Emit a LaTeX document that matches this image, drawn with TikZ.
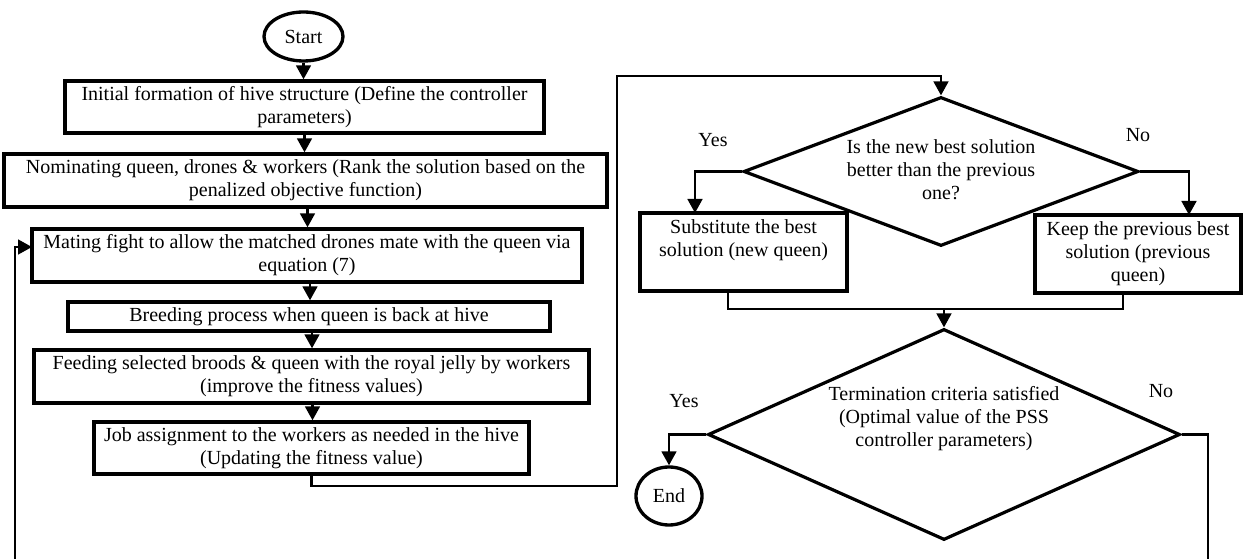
\documentclass[tikz,border=0pt]{standalone}
\usepackage{fontspec}
\setmainfont{Liberation Serif}
\usetikzlibrary{shapes.geometric,arrows.meta}
\newcommand\pxu{0.75pt}
\begin{document}
\begin{tikzpicture}[x=0.75pt,y=-0.75pt,
  font=\fontsize{15pt}{17.3pt}\selectfont,
  box/.style={draw,line width=2.5pt,rectangle,inner sep=0pt,align=center},
  term/.style={draw,line width=2.5pt,ellipse,inner sep=0pt},
  dec/.style={draw,line width=2.4pt,diamond,inner sep=0pt},
  conn/.style={line width=2pt},
  arr/.style={line width=2pt,-{Triangle[width=11pt,length=10.5pt]}},
  lbl/.style={inner sep=0pt}]
\useasboundingbox (0,0) rectangle (1247,559);
% left column
\node[term,minimum width=79*\pxu,minimum height=49*\pxu] (start) at (303.5,36.5) {Start};
\node[box,minimum width=479*\pxu,minimum height=52*\pxu] (b1) at (304.5,107) {Initial formation of hive structure (Define the controller\\parameters)};
\node[box,minimum width=603*\pxu,minimum height=53*\pxu] (b2) at (305.5,180.5) {Nominating queen, drones \& workers (Rank the solution based on the\\penalized objective function)};
\node[box,minimum width=550*\pxu,minimum height=53*\pxu] (b3) at (307,255.5) {Mating fight to allow the matched drones mate with the queen via\\equation (7)};
\node[box,minimum width=482*\pxu,minimum height=29*\pxu] (b4) at (309,316.5) {Breeding process when queen is back at hive};
\node[box,minimum width=555*\pxu,minimum height=53*\pxu] (b5) at (311.5,376.5) {Feeding selected broods \& queen with the royal jelly by workers\\(improve the fitness values)};
\node[box,minimum width=435*\pxu,minimum height=52*\pxu] (b6) at (311.5,448) {Job assignment to the workers as needed in the hive\\(Updating the fitness value)};
\draw[arr] (start.south) -- (start.south |- b1.north);
\draw[arr] (b1.south) -- (b1.south |- b2.north);
\draw[arr] (b2.south) ++(2,0) coordinate (b2s) -- (b2s |- b3.north);
\draw[arr] (b3.south) ++(3,0) coordinate (b3s) -- (b3s |- b4.north);
\draw[arr] (b4.south) ++(3,0) coordinate (b4s) -- (b4s |- b5.north);
\draw[arr] (b5.south) ++(1,0) coordinate (b5s) -- (b5s |- b6.north);
% loop back at left
\coordinate (lb) at (15,559);
\coordinate (m3in) at (32,247);
\draw[arr] (lb) |- (m3in);
% right column
\node[dec,minimum width=395*\pxu,minimum height=149*\pxu] (d1) at (941,171.5) {};
\node[lbl,align=center] (d1t) at (941,170) {Is the new best solution\\better than the previous\\one?};
\coordinate (jR) at (617,486);
\coordinate (tR) at (617,76);
\draw[arr] (b6.south) |- (jR) -- (tR) -| (d1.north);
\node[box,minimum width=207*\pxu,minimum height=78*\pxu] (sub) at (743.5,252) {};
\node[lbl,align=center,anchor=north] (subt) at (743.5,219) {Substitute the best\\solution (new queen)};
\node[box,minimum width=206*\pxu,minimum height=78*\pxu] (keep) at (1138,254) {Keep the previous best\\solution (previous\\queen)};
\node[lbl] (yes1) at (713,140) {Yes};
\node[lbl] (no1) at (1138,135) {No};
\coordinate (sIn) at (695,213);
\coordinate (kIn) at (1189,215);
\draw[arr] (d1.west) -| (sIn);
\draw[arr] (d1.east) -| (kIn);
\node[dec,minimum width=472*\pxu,minimum height=211*\pxu] (d2) at (944,434.5) {};
\node[lbl,align=center] (d2t) at (944,419) {Termination criteria satisfied\\(Optimal value of the PSS\\controller parameters)};
\coordinate (sOut) at (728,291);
\coordinate (kOut) at (1123,293);
\coordinate (mL) at (728,309);
\coordinate (mR) at (1123,309);
\coordinate (mC) at (944,309);
\draw[conn] (sOut) -- (mL) -- (mR) -- (kOut);
\draw[arr] (mC) -- (d2.north);
\node[term,minimum width=66*\pxu,minimum height=58*\pxu] (endn) at (669,496) {End};
\node[lbl] (yes2) at (684,401) {Yes};
\node[lbl] (no2) at (1161,391) {No};
\draw[arr] (d2.west) -| (endn.north);
\coordinate (noBot) at (1208,559);
\draw[conn] (d2.east) -| (noBot);
\end{tikzpicture}
\end{document}
